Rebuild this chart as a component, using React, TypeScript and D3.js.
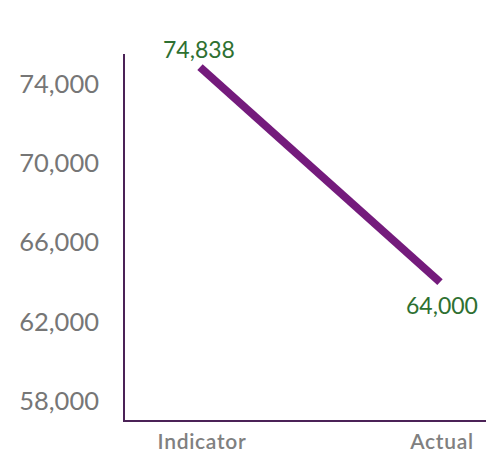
import React from 'react';
import * as d3 from 'd3';

const categories = ['Indicator', 'Actual'];
const values = [74838, 64000];
const yTicks = [58000, 62000, 66000, 70000, 74000];

const W = 486;
const H = 455;

const App: React.FC = () => {
  const x = d3.scalePoint<string>().domain(categories).range([200, 440]);
  const y = d3.scaleLinear().domain([57000, 75500]).range([421, 54]);
  const fmt = d3.format(',');

  const pts = categories.map((c, i) => ({ c, v: values[i] }));
  const line = d3
    .line<{ c: string; v: number }>()
    .x(d => x(d.c) as number)
    .y(d => y(d.v));

  const axisX = 124;
  const font = 'Lato, "Open Sans", sans-serif';

  return (
    <svg
      width={W}
      height={H}
      style={{ position: 'absolute', left: 0, top: 0, background: '#fff' }}
    >
      {/* axes */}
      <line x1={axisX} x2={axisX} y1={y(75500)} y2={y(57000)} stroke="#4b2257" strokeWidth={2} />
      <line x1={axisX - 1} x2={W} y1={y(57000)} y2={y(57000)} stroke="#4b2257" strokeWidth={2} />

      {yTicks.map(t => (
        <text
          key={t}
          x={99}
          y={y(t) + 9}
          textAnchor="end"
          fontFamily={font}
          fontSize={25.5}
          fill="#767676"
        >
          {fmt(t)}
        </text>
      ))}

      {categories.map(c => (
        <text
          key={c}
          x={(x(c) as number) + 2}
          y={449}
          textAnchor="middle"
          fontFamily={font}
          fontSize={21}
          fontWeight={600}
          letterSpacing={0.7}
          fill="#808080"
        >
          {c}
        </text>
      ))}

      <path d={line(pts) || ''} fill="none" stroke="#741b7c" strokeWidth={8} />

      {pts.map((p, i) => (
        <text
          key={p.c}
          x={(x(p.c) as number) + (i === 0 ? -1 : 2)}
          y={i === 0 ? y(p.v) - 9 : y(p.v) + 32}
          textAnchor="middle"
          fontFamily={font}
          fontSize={23}
          fill="#2e7031"
        >
          {fmt(p.v)}
        </text>
      ))}
    </svg>
  );
};

export default App;
